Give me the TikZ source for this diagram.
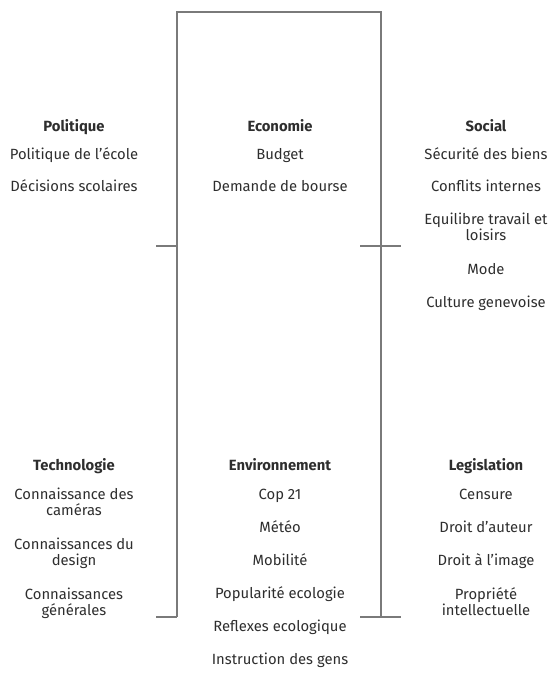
\documentclass[tikz,border=0pt]{standalone}
\usepackage{fontspec}
\setmainfont{Fira Sans}
\definecolor{txt}{HTML}{2E2E2E}
\definecolor{ln}{HTML}{7A7A7A}
\begin{document}
\begin{tikzpicture}[x=1pt,y=-1pt,
  item/.style={anchor=base,inner sep=0pt,align=center,text=txt,font=\fontsize{14.8}{16.5}\selectfont},
  head/.style={item,font=\fontsize{14.8}{16.5}\selectfont\bfseries},
  frame/.style={draw=ln,line width=1.3pt}]
\useasboundingbox (0,0) rectangle (557,675);
% frame
\coordinate (lb) at (177,617);
\coordinate (lt) at (177,12);
\coordinate (rt) at (381,12);
\coordinate (rb) at (381,617);
\coordinate (lm) at (177,246);
\coordinate (rm) at (381,246);
\coordinate (lmt) at (156,246);
\coordinate (rml) at (360,246);
\coordinate (rmr) at (401,246);
\coordinate (lbt) at (156,617);
\coordinate (rbl) at (360,617);
\coordinate (rbr) at (401,617);
\draw[frame] (lb) -- (lt) -- (rt) -- (rb);
\draw[frame] (lmt) -- (lm);
\draw[frame] (rml) -- (rmr);
\draw[frame] (lbt) -- (lb);
\draw[frame] (rbl) -- (rbr);
% top left
\node[head] (pol) at (74,131.5) {Politique};
\node[item] (pol1) at (74,159.5) {Politique de l’école};
\node[item] (pol2) at (74,191.5) {Décisions scolaires};
% top middle
\node[head] (eco) at (280,131.5) {Economie};
\node[item] (eco1) at (280,159.5) {Budget};
\node[item] (eco2) at (280,191.5) {Demande de bourse};
% top right
\node[head] (soc) at (486,131.5) {Social};
\node[item] (soc1) at (486,159.5) {Sécurité des biens};
\node[item] (soc2) at (486,191.5) {Conflits internes};
\node[item] (soc3) at (486,240.5) {Equilibre travail et\\loisirs};
\node[item] (soc4) at (486,274.5) {Mode};
\node[item] (soc5) at (486,307.5) {Culture genevoise};
% bottom left
\node[head] (tec) at (74,470.5) {Technologie};
\node[item] (tec1) at (74,515.5) {Connaissance des\\caméras};
\node[item] (tec2) at (74,565.5) {Connaissances du\\design};
\node[item] (tec3) at (74,615.5) {Connaissances\\générales};
% bottom middle
\node[head] (env) at (280,470.5) {Environnement};
\node[item] (env1) at (280,499.5) {Cop 21};
\node[item] (env2) at (280,532.5) {Météo};
\node[item] (env3) at (280,565.5) {Mobilité};
\node[item] (env4) at (280,598.5) {Popularité ecologie};
\node[item] (env5) at (280,631.5) {Reflexes ecologique};
\node[item] (env6) at (280,664.5) {Instruction des gens};
% bottom right
\node[head] (leg) at (486,470.5) {Legislation};
\node[item] (leg1) at (486,499.5) {Censure};
\node[item] (leg2) at (486,532.5) {Droit d’auteur};
\node[item] (leg3) at (486,565.5) {Droit à l’image};
\node[item] (leg4) at (486,615.5) {Propriété\\intellectuelle};
\end{tikzpicture}
\end{document}
